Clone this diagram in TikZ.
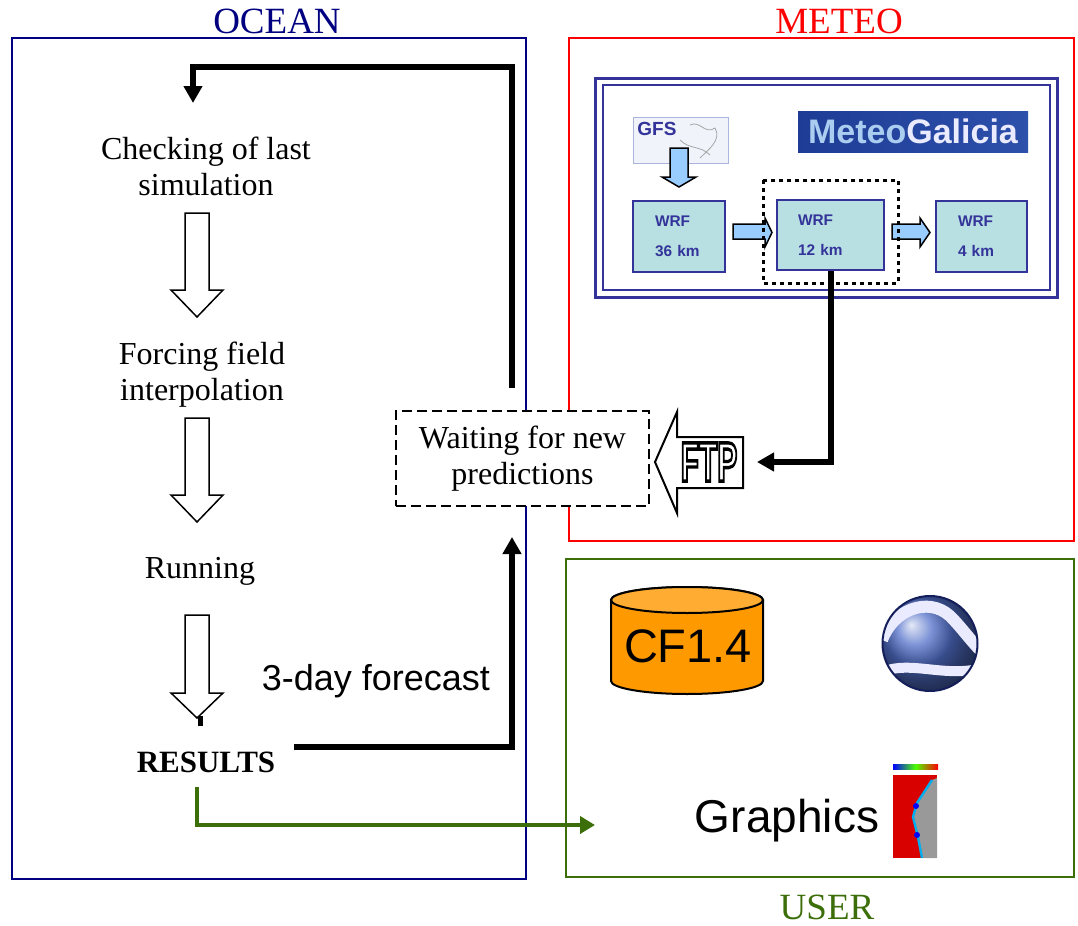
\documentclass[tikz,border=0pt]{standalone}
\usepackage{fontspec}
\setmainfont{Liberation Serif}
\setsansfont{Liberation Sans}
\usetikzlibrary{arrows.meta,positioning}
\definecolor{oceanblue}{RGB}{0,0,128}
\definecolor{meteored}{RGB}{255,0,0}
\definecolor{usergreen}{RGB}{60,110,10}
\definecolor{wrffill}{RGB}{184,224,226}
\definecolor{wrfline}{RGB}{51,51,153}
\definecolor{lightarrow}{RGB}{153,204,255}
\definecolor{bannerdark}{RGB}{30,60,150}
\definecolor{bannermid}{RGB}{45,80,170}
\definecolor{meteolight}{RGB}{170,205,240}
\definecolor{gfsfill}{RGB}{240,243,250}
\definecolor{gfsline}{RGB}{170,180,220}
\definecolor{dbfill}{RGB}{255,153,0}
\definecolor{dbtop}{RGB}{255,172,50}
\definecolor{earthblue}{RGB}{80,110,200}
\definecolor{earthrim}{RGB}{20,30,90}
\newcommand{\outlinetext}[1]{\special{pdf:literal direct 1 Tr 0.9 w}#1\special{pdf:literal direct 0 Tr}}

\begin{document}
\begin{tikzpicture}[x=0.5pt, y=-0.5pt]
\tikzstyle{panel}=[line width=0.8pt]
\tikzstyle{ttl}=[font=\fontsize{18.5}{22}\selectfont, inner sep=0pt, anchor=base]
\tikzstyle{txt}=[font=\fontsize{16}{18}\selectfont, align=center, inner sep=0pt]
\tikzstyle{wrf}=[draw=wrfline, line width=1pt, fill=wrffill, inner xsep=11pt, align=left, text=wrfline, font=\sffamily\bfseries\fontsize{7.7}{15}\selectfont, minimum height=35.5pt]
\tikzstyle{flow}=[line width=3pt, -{Triangle[length=8.5pt,width=9pt]}]
\tikzstyle{greenflow}=[line width=2pt, usergreen, -{Triangle[length=7.5pt,width=8.5pt]}]
\tikzstyle{hollow}=[line width=0.75pt, fill=white]
\tikzstyle{blueflow}=[line width=0.75pt, fill=lightarrow]

\useasboundingbox (0,0) rectangle (1078,926);

% panels
\draw[panel, oceanblue] (12,38) rectangle (526,879);
\draw[panel, meteored] (569,38) rectangle (1074,541);
\draw[panel, usergreen] (566,559) rectangle (1074,877);
\node[ttl, text=oceanblue] (ocean) at (277,33) {OCEAN};
\node[ttl, text=meteored]  (meteo) at (839,33) {METEO};
\node[ttl, text=usergreen] (user)  at (827,919) {USER};

% ocean steps
\node[txt] (check)   at (206,166) {Checking of last\\simulation};
\node[txt] (forcing) at (202,375) {Forcing field\\interpolation};
\node[txt, anchor=base] (running) at (200,578) {Running};
\node[txt, anchor=base, font=\bfseries\fontsize{15.5}{18}\selectfont] (results) at (206,772) {RESULTS};
\node[anchor=base, inner sep=0pt, font=\sffamily\fontsize{18}{22}\selectfont] (forecast) at (376,690) {3-day forecast};
\foreach \ya/\yb/\yc in {213/290/317, 418/495/522, 615/693/718}
  \draw[hollow] (185,\ya) -- (209,\ya) -- (209,\yb) -- (223,\yb) -- (197,\yc) -- (171,\yb) -- (185,\yb) -- cycle;
\fill (198,716) rectangle (203,726);

% meteo frame
\draw[wrfline, line width=1.5pt] (595,78) rectangle (1057,297);
\draw[wrfline, line width=0.8pt] (603,85) rectangle (1050,290);
\node[draw=gfsline, fill=gfsfill, minimum width=47.5pt, minimum height=23pt, inner sep=0pt] (gfs) at (680.5,140) {};
\draw[gray!70, line width=0.4pt] (690,125) .. controls (700,120) and (705,135) .. (715,128) .. controls (722,140) and (708,150) .. (700,158);
\draw[gray!70, line width=0.4pt] (680,140) .. controls (690,150) and (700,145) .. (710,155);
\node[anchor=north west, inner sep=0pt, text=wrfline, font=\sffamily\bfseries\fontsize{9.5}{11}\selectfont] (gfslabel) at (637,122) {GFS};
\node[left color=bannerdark, right color=bannermid, minimum width=115pt, minimum height=20.5pt, inner sep=0pt, font=\sffamily\bfseries\fontsize{17}{20}\selectfont] (banner) at (913,131.5) {\textcolor{meteolight}{Meteo}\textcolor{white!92!blue}{Galicia}};
\node[wrf, minimum width=46pt, text width=24pt] (wrf36) at (679,236.5) {WRF\\36 km};
\node[wrf, minimum width=53.5pt, text width=32.5pt, minimum height=35pt, inner xsep=10.5pt] (wrf12) at (830.5,235) {WRF\\12 km};
\node[wrf, minimum width=45.5pt, text width=23.5pt] (wrf4) at (981.5,236.5) {WRF\\4 km};
\draw[blueflow] (670,148) -- (688,148) -- (688,177) -- (696,177) -- (679,187) -- (662,177) -- (670,177) -- cycle;
\draw[blueflow] (733,224) -- (765,224) -- (765,218) -- (772,232.5) -- (765,247) -- (765,239) -- (733,239) -- cycle;
\draw[blueflow] (892,224) -- (920,224) -- (920,218) -- (930,232.5) -- (920,247) -- (920,239) -- (892,239) -- cycle;
\draw[line width=1.5pt, dash pattern=on 2pt off 2pt] (763,180) rectangle (898,283);

% waiting and ftp
\node[txt, draw, fill=white, line width=1pt, dash pattern=on 5pt off 2.5pt, minimum width=126.5pt, minimum height=47.5pt] (wait) at (522.5,458.5) {Waiting for new\\predictions};
\draw[line width=1pt, fill=white] (655,462) -- (677,412) -- (677,437) -- (743,437) -- (743,488) -- (677,488) -- (677,513) -- cycle;
\node[inner sep=0pt, font=\sffamily\bfseries\fontsize{15}{18}\selectfont] (ftp) at (709,462) {\scalebox{1}[1.85]{\outlinetext{FTP}}};

% user
\draw[line width=1pt, fill=dbfill] (611,600) -- (611,681) arc[start angle=180, end angle=360, x radius=38pt, y radius=6.5pt] -- (763,600) arc[start angle=0, end angle=180, x radius=38pt, y radius=6.5pt] -- cycle;
\draw[line width=1pt, fill=dbtop] (687,600) ellipse [x radius=38pt, y radius=6.5pt];
\node[anchor=base, inner sep=0pt, font=\sffamily\fontsize{23.5}{28}\selectfont] (cf) at (688,662) {CF1.4};
\coordinate (earth) at (930,643.5);
\begin{scope}
  \clip (earth) circle[radius=23.75pt];
  \shade[ball color=earthblue] (earth) circle[radius=23.75pt];
  \draw[white!92!blue, line width=6pt] (882,640) .. controls (893,610) and (928,596) .. (950,616) .. controls (962,628) and (970,640) .. (982,652);
  \draw[white!92!blue, line width=5pt] (882,672) .. controls (910,660) and (945,678) .. (982,668);
\end{scope}
\draw[earthrim, line width=1pt] (earth) circle[radius=23.75pt];
\node[anchor=base, inner sep=0pt, font=\sffamily\fontsize{23}{28}\selectfont] (graphics) at (787,832) {Graphics};
\shade[left color=blue, right color=red, middle color=green!70!yellow] (893,764) rectangle (938,769);
\fill[red!85!black] (893,775) rectangle (937,858);
\fill[gray!80] (932,780) -- (937,778) -- (937,858) -- (922,858) -- (918,837) -- (913,817) -- (917,803) -- cycle;
\draw[cyan, line width=1.2pt] (932,780) -- (917,803) -- (913,817) -- (918,837) -- (922,858);
\fill[blue] (916,806) circle[radius=1.5pt] (917,835) circle[radius=1.5pt];

% connectors
\coordinate (waitout) at (512,388);
\coordinate (checkin) at (193,103);
\coordinate (resout) at (294,747);
\coordinate (waitin) at (512,537);
\coordinate (ftpin) at (757,462);
\coordinate (resdown) at (197,787);
\coordinate (userin) at (595,825);
\draw[flow] (waitout) -- ++(0,-321) -| (checkin);
\draw[flow] (resout) -| (waitin);
\draw[flow] (wrf12.south) |- (ftpin);
\draw[greenflow] (resdown) |- (userin);
\end{tikzpicture}
\end{document}
